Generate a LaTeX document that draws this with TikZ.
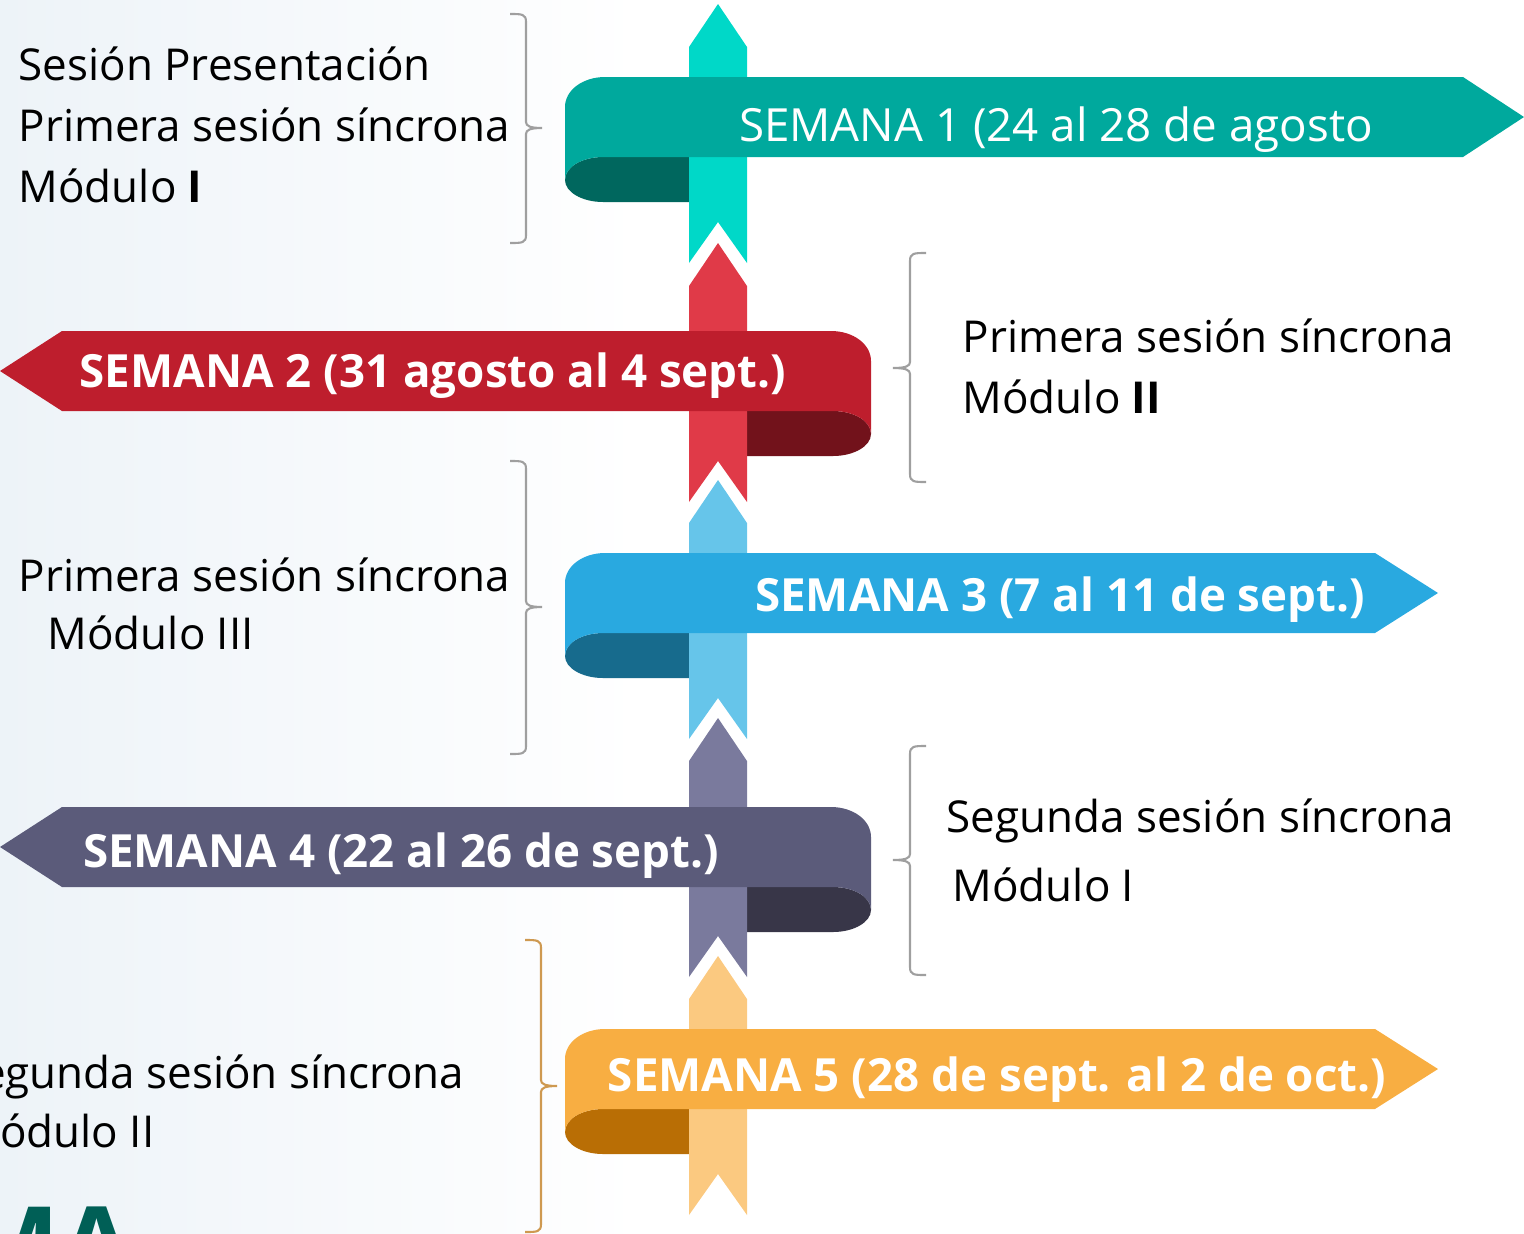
\documentclass[tikz,border=0pt]{standalone}
\usepackage{fontspec}
\setmainfont{Open Sans}
\definecolor{tealF}{HTML}{00A99D}
\definecolor{tealD}{HTML}{00675E}
\definecolor{tealS}{HTML}{00D8C8}
\definecolor{redF}{HTML}{BE1E2D}
\definecolor{redD}{HTML}{72121B}
\definecolor{redS}{HTML}{E03A48}
\definecolor{bluF}{HTML}{29A9E0}
\definecolor{bluD}{HTML}{176B8D}
\definecolor{bluS}{HTML}{66C5EA}
\definecolor{purF}{HTML}{5B5B7A}
\definecolor{purD}{HTML}{383648}
\definecolor{purS}{HTML}{7A7A9D}
\definecolor{orgF}{HTML}{F8AE42}
\definecolor{orgD}{HTML}{B96E05}
\definecolor{orgS}{HTML}{FBC980}
\definecolor{bgBlue}{HTML}{EDF3F8}
\definecolor{maTeal}{HTML}{005F56}
\begin{document}
\begin{tikzpicture}[x=0.01cm, y=-0.01cm,
  wk/.style={text=white, font=\fontsize{13}{16}\selectfont, anchor=base},
  lbl/.style={font=\fontsize{12.5}{17}\selectfont, inner sep=0pt},
  brc/.style={line width=0.6pt, gray!75}]
\useasboundingbox (0,0) rectangle (1524,1233);
\clip (0,0) rectangle (1524,1233);
\shade[left color=bgBlue, right color=white] (0,0) rectangle (640,1233);
% semana 1
\fill[tealD] (689,157) -- (603,157) .. controls (582,157) and (565,167) .. (565,180) .. controls (565,192) and (582,202) .. (603,202) -- (689,202) -- cycle;
\fill[tealS] (689,47) -- (718,4) -- (747,47) -- (747,263) -- (718,222) -- (689,263) -- cycle;
\fill[tealF] (1463,77) -- (605,77) .. controls (583,77) and (565,90) .. (565,107) -- (565,180) .. controls (565,167) and (582,157) .. (603,157) -- (1463,157) -- (1524,117) -- cycle;
\node[wk] (w1) at (1056,141) {SEMANA 1 (24 al 28 de agosto};
% semana 2
\fill[redD] (747,411) -- (833,411) .. controls (854,411) and (871,421) .. (871,434) .. controls (871,446) and (854,456) .. (833,456) -- (747,456) -- cycle;
\fill[redS] (689,286) -- (718,243) -- (747,286) -- (747,502) -- (718,461) -- (689,502) -- cycle;
\fill[redF] (62,331) -- (831,331) .. controls (853,331) and (871,344) .. (871,361) -- (871,434) .. controls (871,421) and (854,411) .. (833,411) -- (62,411) -- (0,371) -- cycle;
\node[wk, font=\fontsize{13}{16}\selectfont\bfseries] (w2) at (433,387) {SEMANA 2 (31 agosto al 4 sept.)};
% semana 3
\fill[bluD] (689,633) -- (603,633) .. controls (582,633) and (565,643) .. (565,656) .. controls (565,668) and (582,678) .. (603,678) -- (689,678) -- cycle;
\fill[bluS] (689,523) -- (718,480) -- (747,523) -- (747,739) -- (718,698) -- (689,739) -- cycle;
\fill[bluF] (1375,553) -- (605,553) .. controls (583,553) and (565,566) .. (565,583) -- (565,656) .. controls (565,643) and (582,633) .. (603,633) -- (1375,633) -- (1438,593) -- cycle;
\node[wk, font=\fontsize{13}{16}\selectfont\bfseries] (w3) at (1060,611) {SEMANA 3 (7 al 11 de sept.)};
% semana 4
\fill[purD] (747,887) -- (833,887) .. controls (854,887) and (871,897) .. (871,910) .. controls (871,922) and (854,932) .. (833,932) -- (747,932) -- cycle;
\fill[purS] (689,761) -- (718,718) -- (747,761) -- (747,977) -- (718,936) -- (689,977) -- cycle;
\fill[purF] (62,807) -- (831,807) .. controls (853,807) and (871,820) .. (871,837) -- (871,910) .. controls (871,897) and (854,887) .. (833,887) -- (62,887) -- (0,847) -- cycle;
\node[wk, font=\fontsize{13}{16}\selectfont\bfseries] (w4) at (401,867) {SEMANA 4 (22 al 26 de sept.)};
% semana 5
\fill[orgD] (689,1109) -- (603,1109) .. controls (582,1109) and (565,1119) .. (565,1132) .. controls (565,1144) and (582,1154) .. (603,1154) -- (689,1154) -- cycle;
\fill[orgS] (689,999) -- (718,956) -- (747,999) -- (747,1215) -- (718,1174) -- (689,1215) -- cycle;
\fill[orgF] (1375,1029) -- (605,1029) .. controls (583,1029) and (565,1042) .. (565,1059) -- (565,1132) .. controls (565,1119) and (582,1109) .. (603,1109) -- (1375,1109) -- (1438,1069) -- cycle;
\node[wk, font=\fontsize{13}{16}\selectfont\bfseries] (w5) at (997,1091) {SEMANA 5 (28 de sept. al 2 de oct.)};
% braces
\draw[brc] (510,14) .. controls (522,14) and (526,14) .. (526,22) -- (526,122) .. controls (526,126) and (530,128) .. (542,128) .. controls (530,128) and (526,130) .. (526,134) -- (526,235) .. controls (526,243) and (522,243) .. (510,243);
\draw[brc] (926,253) .. controls (914,253) and (910,253) .. (910,261) -- (910,362) .. controls (910,366) and (906,368) .. (893,368) .. controls (906,368) and (910,370) .. (910,374) -- (910,474) .. controls (910,482) and (914,482) .. (926,482);
\draw[brc] (510,461) .. controls (522,461) and (526,461) .. (526,469) -- (526,601) .. controls (526,605) and (530,607) .. (542,607) .. controls (530,607) and (526,609) .. (526,613) -- (526,746) .. controls (526,754) and (522,754) .. (510,754);
\draw[brc] (926,746) .. controls (914,746) and (910,746) .. (910,754) -- (910,854) .. controls (910,858) and (906,860) .. (893,860) .. controls (906,860) and (910,862) .. (910,866) -- (910,967) .. controls (910,975) and (914,975) .. (926,975);
\draw[brc, color=orgD!70] (525,940) .. controls (537,940) and (541,940) .. (541,948) -- (541,1080) .. controls (541,1084) and (545,1086) .. (557,1086) .. controls (545,1086) and (541,1088) .. (541,1092) -- (541,1224) .. controls (541,1232) and (537,1232) .. (525,1232);
% notes
\node[lbl, anchor=base west] (n1a) at (18,80) {Sesión Presentación};
\node[lbl, anchor=base west] (n1b) at (18,141) {Primera sesión síncrona};
\node[lbl, anchor=base west] (n1c) at (18,202) {Módulo \textbf{I}};
\node[lbl, anchor=base west] (n2a) at (962,352) {Primera sesión síncrona};
\node[lbl, anchor=base west] (n2b) at (962,413) {Módulo \textbf{II}};
\node[lbl, anchor=base west] (n3a) at (18,591) {Primera sesión síncrona};
\node[lbl, anchor=base west] (n3b) at (47,649) {Módulo III};
\node[lbl, anchor=base west] (n4a) at (946,832) {Segunda sesión síncrona};
\node[lbl, anchor=base west] (n4b) at (952,901) {Módulo I};
\node[lbl, anchor=base east] (n5a) at (465,1088) {Segunda sesión síncrona};
\node[lbl, anchor=base east] (n5b) at (155,1147) {Módulo II};
\node[font=\fontsize{30}{30}\selectfont\bfseries, text=maTeal, anchor=base west, inner sep=0pt] (ma) at (-40,1282) {MA};
\end{tikzpicture}
\end{document}
